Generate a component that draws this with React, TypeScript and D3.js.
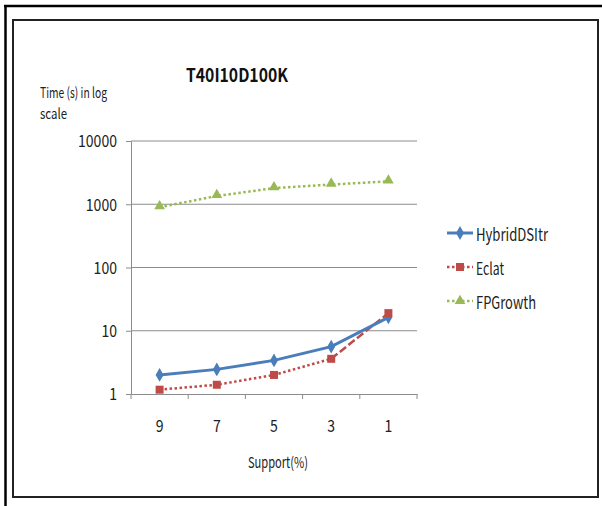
import { useEffect, useRef } from "react";
import * as d3 from "d3";

const supports = ["9", "7", "5", "3", "1"];
const hybridDSItr = [2.0, 2.45, 3.4, 5.6, 16.3];
const eclat = [1.17, 1.4, 2.0, 3.6, 19];
const fpGrowth = [900, 1350, 1800, 2050, 2300];
const yTicks = [1, 10, 100, 1000, 10000];

const FONT = "'Noto Sans CJK KR', 'Noto Sans', sans-serif";
const DIGIT_W = 7.8;

export default function App() {
  const ref = useRef<SVGSVGElement>(null);

  useEffect(() => {
    const svg = d3.select(ref.current);
    svg.selectAll("*").remove();

    const x = d3.scaleBand().domain(supports).range([131, 417]);
    const y = d3.scaleLog().domain([1, 10000]).range([394, 141]);
    const cx = (s: string) => (x(s) as number) + x.bandwidth() / 2;

    // outer frame (top + left only) and inner chart box
    svg.append("line").attr("x1", 4).attr("x2", 602).attr("y1", 6).attr("y2", 6)
      .attr("stroke", "#000").attr("stroke-width", 2.5);
    svg.append("line").attr("x1", 5.5).attr("x2", 5.5).attr("y1", 5).attr("y2", 506)
      .attr("stroke", "#000").attr("stroke-width", 2.5);
    svg.append("rect").attr("x", 13).attr("y", 20).attr("width", 585).attr("height", 477)
      .attr("fill", "#fff").attr("stroke", "#222").attr("stroke-width", 2);

    // gridlines
    svg.append("g").selectAll("line").data(yTicks.slice(1)).join("line")
      .attr("x1", 131).attr("x2", 417)
      .attr("y1", (d) => y(d)).attr("y2", (d) => y(d))
      .attr("stroke", "#8c8c8c").attr("stroke-width", 1);

    // y axis
    const ya = svg.append("g").attr("transform", "translate(131,0)")
      .call(d3.axisLeft(y).tickValues(yTicks).tickFormat(d3.format("d")).tickSize(5).tickPadding(9));
    ya.select(".domain").attr("stroke", "#8c8c8c");
    ya.selectAll(".tick line").attr("stroke", "#8c8c8c");
    ya.selectAll<SVGTextElement, number>("text")
      .attr("font-family", FONT).attr("font-size", 17).attr("fill", "#222")
      .attr("dy", "0.35em")
      .attr("textLength", (d) => String(d).length * DIGIT_W)
      .attr("lengthAdjust", "spacingAndGlyphs");

    // x axis
    const xa = svg.append("g").attr("transform", "translate(0,394)")
      .call(d3.axisBottom(x).tickSize(0).tickPadding(26));
    xa.select(".domain").attr("stroke", "#8c8c8c");
    xa.selectAll("text").attr("font-family", FONT).attr("font-size", 17).attr("fill", "#222")
      .attr("textLength", DIGIT_W).attr("lengthAdjust", "spacingAndGlyphs");
    svg.append("g").selectAll("line").data([...supports.map((s) => x(s) as number), 417]).join("line")
      .attr("x1", (d) => d).attr("x2", (d) => d).attr("y1", 394).attr("y2", 399)
      .attr("stroke", "#8c8c8c");

    // titles
    svg.append("text").attr("x", 237).attr("y", 82).attr("text-anchor", "middle")
      .attr("font-family", FONT).attr("font-weight", "bold").attr("font-size", 19)
      .attr("fill", "#111").attr("textLength", 102).attr("lengthAdjust", "spacingAndGlyphs")
      .text("T40I10D100K");
    svg.append("text").attr("x", 40).attr("y", 98)
      .attr("font-family", FONT).attr("font-size", 14.5).attr("fill", "#222")
      .attr("textLength", 67).attr("lengthAdjust", "spacingAndGlyphs").text("Time (s) in log");
    svg.append("text").attr("x", 40).attr("y", 119)
      .attr("font-family", FONT).attr("font-size", 14.5).attr("fill", "#222")
      .attr("textLength", 27).attr("lengthAdjust", "spacingAndGlyphs").text("scale");
    svg.append("text").attr("x", 278).attr("y", 468).attr("text-anchor", "middle")
      .attr("font-family", FONT).attr("font-size", 15).attr("fill", "#222")
      .attr("textLength", 60).attr("lengthAdjust", "spacingAndGlyphs").text("Support(%)");

    const line = d3.line<number>().x((_, i) => cx(supports[i])).y((d) => y(d));
    const lineFrom = (vals: number[], start: number) =>
      d3.line<number>().x((_, i) => cx(supports[i + start])).y((d) => y(d))(vals);

    // FPGrowth
    svg.append("path").attr("d", line(fpGrowth)).attr("fill", "none")
      .attr("stroke", "#98b954").attr("stroke-width", 2.5).attr("stroke-dasharray", "2.5,2.5");
    // Eclat (dotted, last segment dashed)
    svg.append("path").attr("d", lineFrom(eclat.slice(0, 4), 0)).attr("fill", "none")
      .attr("stroke", "#be4b48").attr("stroke-width", 2.5).attr("stroke-dasharray", "2.5,2.5");
    svg.append("path").attr("d", lineFrom(eclat.slice(3), 3)).attr("fill", "none")
      .attr("stroke", "#be4b48").attr("stroke-width", 2.5).attr("stroke-dasharray", "8,3");
    // HybridDSItr
    svg.append("path").attr("d", line(hybridDSItr)).attr("fill", "none")
      .attr("stroke", "#4a7ebb").attr("stroke-width", 3);

    const diamond = d3.symbol(d3.symbolDiamond, 55)();
    const square = d3.symbol(d3.symbolSquare, 64)();
    const triangle = d3.symbol(d3.symbolTriangle, 50)();

    svg.append("g").selectAll("path").data(hybridDSItr).join("path")
      .attr("d", diamond).attr("fill", "#4a7ebb")
      .attr("transform", (d, i) => `translate(${cx(supports[i])},${y(d)})`);
    svg.append("g").selectAll("path").data(eclat).join("path")
      .attr("d", square).attr("fill", "#be4b48")
      .attr("transform", (d, i) => `translate(${cx(supports[i])},${y(d)})`);
    svg.append("g").selectAll("path").data(fpGrowth).join("path")
      .attr("d", triangle).attr("fill", "#98b954")
      .attr("transform", (d, i) => `translate(${cx(supports[i])},${y(d) - 1})`);

    // legend
    const legend = [
      { name: "HybridDSItr", color: "#4a7ebb", dash: null, sym: diamond, w: 3, len: 72 },
      { name: "Eclat", color: "#be4b48", dash: "2.5,2.5", sym: square, w: 2.5, len: 28 },
      { name: "FPGrowth", color: "#98b954", dash: "2.5,2.5", sym: triangle, w: 2.5, len: 60 },
    ];
    const lg = svg.append("g").selectAll("g").data(legend).join("g")
      .attr("transform", (_, i) => `translate(447,${233 + i * 34})`);
    lg.append("line").attr("x1", 0).attr("x2", 26).attr("y1", 0).attr("y2", 0)
      .attr("stroke", (d) => d.color).attr("stroke-width", (d) => d.w)
      .attr("stroke-dasharray", (d) => d.dash);
    lg.append("path").attr("d", (d) => d.sym).attr("fill", (d) => d.color)
      .attr("transform", "translate(13,0)");
    lg.append("text").attr("x", 29).attr("y", 7.5).attr("font-family", FONT)
      .attr("font-size", 17).attr("fill", "#222")
      .attr("textLength", (d) => d.len).attr("lengthAdjust", "spacingAndGlyphs")
      .text((d) => d.name);
  }, []);

  return (
    <svg
      ref={ref}
      width={602}
      height={506}
      style={{ position: "absolute", left: 0, top: 0, background: "#fff" }}
    />
  );
}
